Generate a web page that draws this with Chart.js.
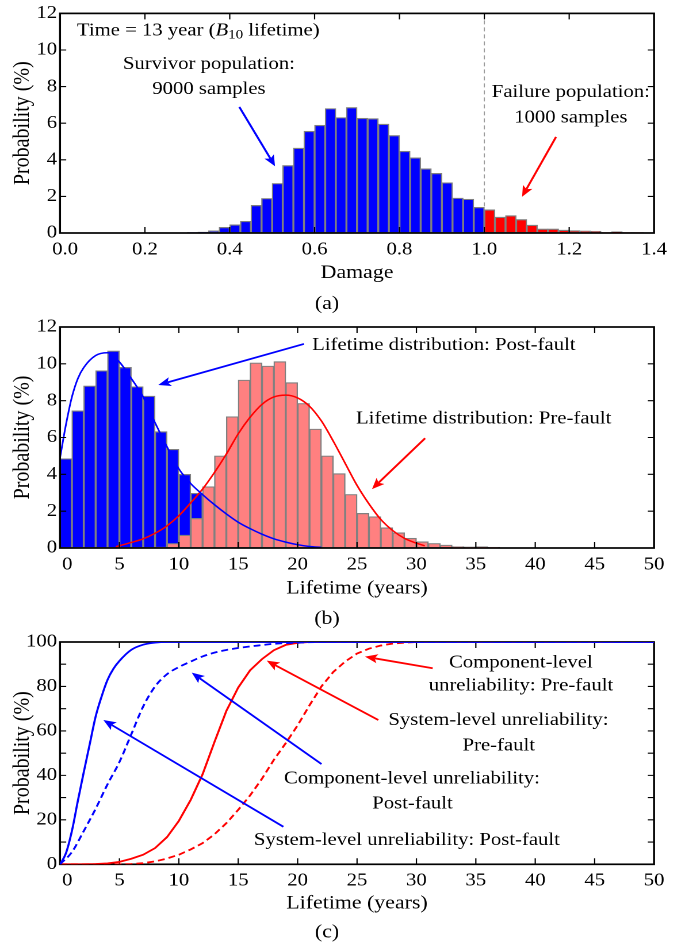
<!DOCTYPE html>
<html>
<head>
<meta charset="utf-8">
<script src="https://cdn.jsdelivr.net/npm/chart.js@4.4.1/dist/chart.umd.min.js"></script>
<style>
html,body{margin:0;padding:0;background:#fff;}
#wrap{position:relative;width:689px;height:950px;overflow:hidden;background:#fff;}
canvas{position:absolute;left:0;transform-origin:0 0;transform:scaleX(1.15025);}
</style>
</head>
<body>
<div id="wrap">
<canvas id="cA" width="599" height="320" style="top:0px"></canvas>
<canvas id="cB" width="599" height="324" style="top:310px"></canvas>
<canvas id="cC" width="599" height="330" style="top:620px"></canvas>
</div>
<script>
// ---------------- DATA ----------------
// (a) Damage histogram at 13 years
const survivorDamage = [0.3125,0.3375,0.3625,0.3875,0.4125,0.4375,0.4625,0.4875,0.5125,0.5375,0.5625,0.5875,0.6125,0.6375,0.6625,0.6875,0.7125,0.7375,0.7625,0.7875,0.8125,0.8375,0.8625,0.8875,0.9125,0.9375,0.9625,0.9875];
const survivorProb   = [0.03,0.05,0.12,0.31,0.45,0.64,1.51,1.89,2.71,3.69,4.64,5.56,5.89,6.80,6.31,6.86,6.27,6.25,5.95,5.33,4.47,4.11,3.51,3.26,2.75,1.91,1.85,1.40];
const failureDamage  = [1.0125,1.0375,1.0625,1.0875,1.1125,1.1375,1.1625,1.1875,1.2125,1.2375,1.2625,1.2875,1.3125,1.3375,1.3625,1.3875];
const failureProb    = [1.27,0.87,0.95,0.74,0.43,0.22,0.22,0.16,0.13,0.11,0.10,0.03,0.07,0.03,0.03,0.02];
const damageTicks    = {min:0, max:1.4, step:0.2};

// (b) Lifetime histograms and fitted distributions
const postFaultYears = [0.5,1.5,2.5,3.5,4.5,5.5,6.5,7.5,8.5,9.5,10.5,11.5];
const postFaultProb  = [4.85,7.45,8.8,9.63,10.7,9.81,8.76,8.25,6.32,5.36,4.0,2.97];
const preFaultYears  = [8.5,9.5,10.5,11.5,12.5,13.5,14.5,15.5,16.5,17.5,18.5,19.5,20.5,21.5,22.5,23.5,24.5,25.5,26.5,27.5,28.5,29.5,30.5,31.5,32.5,33.5,34.5,35.5,36.5];
const preFaultProb   = [0.05,0.25,0.7,1.61,3.33,5.0,7.13,9.12,10.05,9.88,10.12,8.98,7.85,6.46,5.0,4.04,2.91,1.88,1.70,1.10,0.83,0.53,0.34,0.25,0.16,0.08,0.06,0.07,0.04];
const postFitYears   = [0,0.5,1,1.5,2,3,4,5,6,7,8,9,10,11,12,13,14,15,16,17,18,19,20,21,22];
const postFitProb    = [4.9,6.7,8.2,9.2,9.8,10.45,10.6,10.1,9.2,8.2,6.8,5.5,4.3,3.5,2.9,2.35,1.85,1.4,1.05,0.75,0.5,0.32,0.18,0.08,0.03];
const preFitYears    = [4.7,6,7,8,9,10,11,12,13,14,15,16,17,18,19,20,21,22,23,24,25,26,27,28,29,30,30.7];
const preFitProb     = [0.07,0.3,0.5,0.8,1.2,1.75,2.45,3.2,4.1,5.1,6.2,7.1,7.8,8.2,8.3,8.15,7.7,6.9,5.8,4.6,3.4,2.4,1.55,0.95,0.52,0.26,0.12];

// (c) Unreliability curves
const sysPostYears   = [0,0.5,1,1.5,2,2.5,3,3.5,4,4.5,5,6,7,8,9,50];
const sysPostProb    = [0,5,15,28.5,41.5,54,66.5,75.5,83,88,91.5,96.5,98.8,99.7,100,100];
const compPostYears  = [0,1,2,3,4,5,6,7,8,9,10,11,12,13,14,15,16,17,18,20,22,50];
const compPostProb   = [0,5.5,15,25,36,46,58.5,71,80,85.5,88.7,91.2,93.5,95.2,96.4,97.3,98,98.6,99.2,99.7,100,100];
const sysPreYears    = [0,2,3,4,5,6,7,8,9,10,11,12,13,14,15,16,17,18,19,20,21,50];
const sysPreProb     = [0,0,0.1,0.4,1.1,2.5,4.3,7.3,12.2,19.5,29,40.5,55,69,79.5,87.3,92.3,96.3,98.7,99.6,100,100];
const compPreYears   = [0,5,6,7,8,9,10,11,12,13,14,15,16,17,18,19,20,21,22,23,24,25,26,27,28,29,30,50];
const compPreProb    = [0,0,0.1,0.5,1.3,2.6,4.3,6.7,9.5,13.5,18.5,24.5,31,38.5,47,54.5,62.5,71.5,80,86.5,91.2,94.8,97,98.4,99.3,99.7,100,100];
const lifetimeTicks  = {min:0, max:50, step:5};

// ---------------- STYLE / HELPERS ----------------
const FONT = "'Liberation Serif','Times New Roman',Times,serif";
const BLUE = '#0000ff', RED = '#ff0000', PINK = '#ff8080', EDGE = '#808080';
Chart.defaults.font.family = FONT;
Chart.defaults.color = '#000';

const pts = (xs, ys) => xs.map((v, i) => ({x: v, y: ys[i]}));

function drawFrame(chart) {
  const {ctx, chartArea: a, scales} = chart;
  const x = scales.x, y = scales.y, L = 6;
  ctx.save();
  ctx.strokeStyle = '#000';
  ctx.lineWidth = 1.1;
  ctx.beginPath();
  x.ticks.forEach(t => {
    const p = x.getPixelForValue(t.value);
    if (p <= a.left + 1 || p >= a.right - 1) return;
    ctx.moveTo(p, a.bottom); ctx.lineTo(p, a.bottom - L);
    ctx.moveTo(p, a.top); ctx.lineTo(p, a.top + L);
  });
  y.ticks.forEach(t => {
    const p = y.getPixelForValue(t.value);
    if (p <= a.top + 1 || p >= a.bottom - 1) return;
    ctx.moveTo(a.left, p); ctx.lineTo(a.left + L * 0.9, p);
    ctx.moveTo(a.right, p); ctx.lineTo(a.right - L * 0.9, p);
  });
  ctx.stroke();
  ctx.lineWidth = 1.7;
  ctx.strokeRect(a.left, a.top, a.right - a.left, a.bottom - a.top);
  ctx.restore();
}

function drawArrow(ctx, x1, y1, x2, y2, color) {
  const ang = Math.atan2(y2 - y1, x2 - x1);
  const L = 11, W = 4.6, N = 2.5;
  const c = Math.cos(ang), s = Math.sin(ang);
  const bx = x2 - L * c, by = y2 - L * s;
  ctx.strokeStyle = color; ctx.fillStyle = color;
  ctx.lineWidth = 1.8;
  ctx.beginPath(); ctx.moveTo(x1, y1); ctx.lineTo(bx + N * c, by + N * s); ctx.stroke();
  ctx.beginPath();
  ctx.moveTo(x2, y2);
  ctx.lineTo(bx + W * s, by - W * c);
  ctx.lineTo(bx + N * c, by + N * s);
  ctx.lineTo(bx - W * s, by + W * c);
  ctx.closePath(); ctx.fill();
}

function drawNotes(chart, notes) {
  const {ctx, scales} = chart;
  const x = scales.x, y = scales.y;
  ctx.save();
  (notes.arrows || []).forEach(a => drawArrow(ctx,
    x.getPixelForValue(a.from[0]), y.getPixelForValue(a.from[1]),
    x.getPixelForValue(a.to[0]), y.getPixelForValue(a.to[1]), a.color));
  ctx.fillStyle = '#000';
  ctx.textBaseline = 'middle';
  (notes.texts || []).forEach(t => {
    const px = x.getPixelForValue(t.at[0]), py = y.getPixelForValue(t.at[1]);
    if (t.parts) {
      let cx = px;
      ctx.textAlign = 'left';
      t.parts.forEach(([str, st]) => {
        const size = st === 'sub' ? 13 : 18;
        ctx.font = (st === 'italic' ? 'italic ' : '') + size + 'px ' + FONT;
        ctx.fillText(str, cx, py + (st === 'sub' ? 4.5 : 0));
        cx += ctx.measureText(str).width;
      });
    } else {
      ctx.font = '18px ' + FONT;
      ctx.textAlign = 'center';
      ctx.fillText(t.text, px, py);
    }
  });
  ctx.restore();
}

function panelPlugin(notes, opt) {
  return {
    id: 'panel',
    beforeDatasetsDraw(chart) {
      if (opt.vline !== undefined) {
        const {ctx, chartArea: a} = chart;
        const p = chart.scales.x.getPixelForValue(opt.vline);
        ctx.save();
        ctx.strokeStyle = '#9a9a9a'; ctx.lineWidth = 1;
        ctx.setLineDash([4, 3]);
        ctx.beginPath(); ctx.moveTo(p, a.top); ctx.lineTo(p, a.bottom); ctx.stroke();
        ctx.restore();
      }
      if (opt.frameUnder) drawFrame(chart);
    },
    afterDatasetsDraw(chart) {
      if (!opt.frameUnder) drawFrame(chart);
      drawNotes(chart, notes);
    }
  };
}

const Y_AXIS_W = 52.17;
function xScale(t, title, fmt, axisH, titlePad) {
  return {
    type: 'linear', min: t.min, max: t.max, offset: false,
    grid: {display: false, drawTicks: false}, border: {display: false},
    ticks: {stepSize: t.step, autoSkip: false, maxRotation: 0, minRotation: 0, padding: 5.9,
            font: {size: 18}, color: '#000', callback: fmt},
    title: {display: true, text: title, font: {size: 19}, color: '#000', padding: {top: 0, bottom: titlePad}},
    afterFit: s => { s.height = axisH; }
  };
}
function yScale(min, max, step, fmt) {
  return {
    type: 'linear', min: min, max: max,
    grid: {display: false, drawTicks: false}, border: {display: false},
    ticks: {stepSize: step, autoSkip: false, padding: 2.6, font: {size: 18}, color: '#000', callback: fmt},
    title: {display: true, text: 'Probability (%)', font: {size: 20}, color: '#000', padding: {top: 7.5, bottom: 0}},
    afterFit: s => { s.width = Y_AXIS_W; }
  };
}
function baseOptions(top, label, labelPad, scales) {
  return {
    responsive: false, animation: false, events: [], devicePixelRatio: 2,
    layout: {padding: {left: 0, top: top, right: 30.4, bottom: 0}},
    plugins: {
      legend: {display: false}, tooltip: {enabled: false},
      title: {display: true, text: label, position: 'bottom', color: '#000',
              font: {size: 19, weight: 'normal'}, padding: {top: 0, bottom: labelPad}}
    },
    scales: scales
  };
}
const barStyle = {borderColor: EDGE, borderWidth: 1.2, borderSkipped: false, grouped: false,
                  barPercentage: 1, categoryPercentage: 1};

// ---------------- PANEL (a) ----------------
const notesA = {
  texts: [
    {at: [0.040, 11.05], parts: [['Time = 13 year (', 'n'], ['B', 'italic'], ['10', 'sub'], [' lifetime)', 'n']]},
    {at: [0.351, 9.23], text: 'Survivor population:'},
    {at: [0.351, 7.85], text: '9000 samples'},
    {at: [1.204, 7.69], text: 'Failure population:'},
    {at: [1.204, 6.31], text: '1000 samples'}
  ],
  arrows: [
    {from: [0.4226, 6.89], to: [0.5067, 3.65], color: BLUE},
    {from: [1.169, 5.25], to: [1.089, 1.98], color: RED}
  ]
};
new Chart(document.getElementById('cA'), {
  type: 'bar',
  data: {datasets: [
    Object.assign({label: 'Survivor population', data: pts(survivorDamage, survivorProb), backgroundColor: BLUE}, barStyle),
    Object.assign({label: 'Failure population', data: pts(failureDamage, failureProb), backgroundColor: RED}, barStyle)
  ]},
  options: baseOptions(13, '(a)', 4.5, {
    x: xScale(damageTicks, 'Damage', v => (Math.abs(v) < 1e-9 ? '\u2002' : '') + Number(v).toFixed(1), 59.7, 8.5),
    y: yScale(0, 12, 2)
  }),
  plugins: [panelPlugin(notesA, {vline: 1.0, frameUnder: false})]
});

// ---------------- PANEL (b) ----------------
const lifeFmt = v => (v === 0 ? '\u2002\u2009' : '') + v;
const notesB = {
  texts: [
    {at: [32.31, 11.0], text: 'Lifetime distribution: Post-fault'},
    {at: [35.66, 7.02], text: 'Lifetime distribution: Pre-fault'}
  ],
  arrows: [
    {from: [20.53, 11.08], to: [8.27, 8.85], color: BLUE},
    {from: [30.73, 5.96], to: [26.26, 3.2], color: RED}
  ]
};
new Chart(document.getElementById('cB'), {
  type: 'bar',
  data: {datasets: [
    Object.assign({label: 'Post-fault samples', data: pts(postFaultYears, postFaultProb), backgroundColor: BLUE, order: 2}, barStyle),
    Object.assign({label: 'Pre-fault samples', data: pts(preFaultYears, preFaultProb), backgroundColor: PINK, order: 1}, barStyle),
    {type: 'line', label: 'Lifetime distribution: Post-fault', data: pts(postFitYears, postFitProb), borderColor: BLUE,
     borderWidth: 1.5, pointRadius: 0, fill: false, cubicInterpolationMode: 'monotone', order: 0},
    {type: 'line', label: 'Lifetime distribution: Pre-fault', data: pts(preFitYears, preFitProb), borderColor: RED,
     borderWidth: 1.5, pointRadius: 0, fill: false, cubicInterpolationMode: 'monotone', order: 0}
  ]},
  options: baseOptions(17, '(b)', 3.6, {
    x: xScale(lifetimeTicks, 'Lifetime (years)', lifeFmt, 59.6, 7.5),
    y: yScale(0, 12, 2)
  }),
  plugins: [panelPlugin(notesB, {frameUnder: false})]
});

// ---------------- PANEL (c) ----------------
const notesC = {
  texts: [
    {at: [38.79, 90.6], text: 'Component-level'},
    {at: [38.8, 80.4], text: 'unreliability: Pre-fault'},
    {at: [36.9, 64.7], text: 'System-level unreliability:'},
    {at: [36.93, 53.4], text: 'Pre-fault'},
    {at: [29.62, 38.5], text: 'Component-level unreliability:'},
    {at: [29.67, 27.2], text: 'Post-fault'},
    {at: [29.2, 10.75], text: 'System-level unreliability: Post-fault'}
  ],
  arrows: [
    {from: [31.37, 88.2], to: [25.67, 93.4], color: RED},
    {from: [26.79, 64.9], to: [17.4, 91.6], color: RED},
    {from: [22.01, 45.1], to: [11.09, 86.2], color: BLUE},
    {from: [18.8, 16.9], to: [3.65, 64.9], color: BLUE}
  ]
};
const lineStyle = {borderWidth: 1.8, pointRadius: 0, fill: false, tension: 0};
const smoothStyle = {borderWidth: 1.8, pointRadius: 0, fill: false, cubicInterpolationMode: 'monotone'};
new Chart(document.getElementById('cC'), {
  type: 'line',
  data: {datasets: [
    Object.assign({label: 'System-level unreliability: Post-fault', data: pts(sysPostYears, sysPostProb), borderColor: BLUE}, smoothStyle),
    Object.assign({label: 'Component-level unreliability: Post-fault', data: pts(compPostYears, compPostProb), borderColor: BLUE, borderDash: [6, 3.5]}, smoothStyle),
    Object.assign({label: 'System-level unreliability: Pre-fault', data: pts(sysPreYears, sysPreProb), borderColor: RED}, lineStyle),
    Object.assign({label: 'Component-level unreliability: Pre-fault', data: pts(compPreYears, compPreProb), borderColor: RED, borderDash: [6, 3.5]}, lineStyle)
  ]},
  options: baseOptions(22, '(c)', 6.3, {
    x: xScale(lifetimeTicks, 'Lifetime (years)', lifeFmt, 56.6, 5.8),
    y: yScale(0, 100, 10, v => (v % 20 === 0 ? String(v) : ''))
  }),
  plugins: [panelPlugin(notesC, {frameUnder: true})]
});
</script>
</body>
</html>
